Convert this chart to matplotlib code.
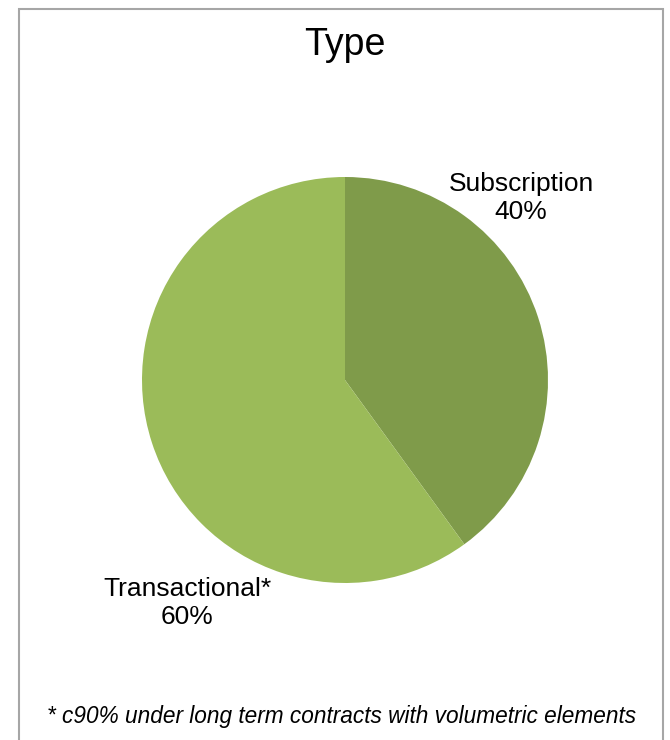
import matplotlib.pyplot as plt
from matplotlib.patches import Rectangle

# Revenue split by type
categories = ["Subscription", "Transactional*"]
shares = [40, 60]
colors = ["#7f9b4a", "#9bbb59"]
footnote = "* c90% under long term contracts with volumetric elements"

plt.rcParams['font.family'] = ['Liberation Sans Narrow', 'Liberation Sans', 'DejaVu Sans']

W, H = 670, 740
fig = plt.figure(figsize=(W / 100, H / 100), dpi=100)

# outer frame (open at the bottom)
fig.patches.append(Rectangle((19 / W, -0.02), 644 / W, 1.02 - 9 / H, transform=fig.transFigure,
                             fill=False, edgecolor="#a6a6a6", linewidth=1.5))

ax = fig.add_axes([142 / W, 157 / H, 406 / W, 406 / H])
wedges, _ = ax.pie(shares, colors=colors, startangle=90, counterclock=False,
                   wedgeprops=dict(linewidth=0))
ax.set_xlim(-1, 1)
ax.set_ylim(-1, 1)
ax.set_aspect("equal")
ax.axis("off")

fig.text(345 / W, 1 - 45 / H, "Type", ha="center", va="center", fontsize=27)

# data labels placed outside the slices
label_pos = [(521, 198), (187, 603)]
for (x, y), name, val in zip(label_pos, categories, shares):
    fig.text(x / W, 1 - y / H, f"{name}\n{val}%", ha="center", va="center",
             fontsize=19, linespacing=1.25)

fig.text(342 / W, 1 - 717 / H, footnote, ha="center", va="center",
         fontsize=16.3, style="italic")

fig.savefig("out.png", dpi=100)
